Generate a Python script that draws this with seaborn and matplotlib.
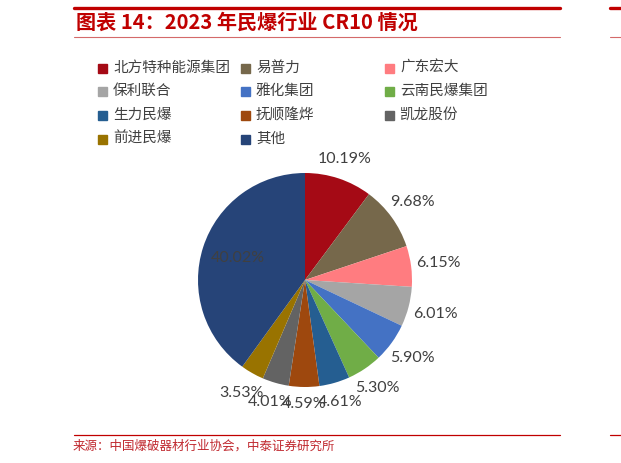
import numpy as np
import matplotlib
matplotlib.use("Agg")
import matplotlib.pyplot as plt
from matplotlib.lines import Line2D
from matplotlib.patches import Rectangle
import seaborn as sns

# data
companies = ["北方特种能源集团", "易普力", "广东宏大", "保利联合", "雅化集团",
             "云南民爆集团", "生力民爆", "抚顺隆烨", "凯龙股份", "前进民爆", "其他"]
shares = [10.19, 9.68, 6.15, 6.01, 5.90, 5.30, 4.61, 4.59, 4.01, 3.53, 40.02]
colors = ["#A50A15", "#76684B", "#FF7C80", "#A5A5A5", "#4472C4",
          "#70AD47", "#255E91", "#9E480E", "#636363", "#997300", "#264478"]

title = "图表 14：2023 年民爆行业 CR10 情况"
source = "来源：中国爆破器材行业协会，中泰证券研究所"

sns.set_style("white")
plt.rcParams['font.family'] = ['Noto Sans CJK SC', 'DejaVu Sans']

W, H = 621, 463
fig = plt.figure(figsize=(W / 100, H / 100), dpi=100)

def fx(px):
    return px / W

def fy(py):
    return 1 - py / H

# pie axes: center (305, 280) px, radius ~107 px
R = 107
span = 1.5
size = 2 * span * R
ax = fig.add_axes([fx(305 - size / 2), (H - 280 - size / 2) / H, size / W, size / H])
palette = sns.color_palette(colors)
wedges, _ = ax.pie(shares, colors=palette, startangle=90, counterclock=False,
                   wedgeprops=dict(linewidth=0))
ax.set_xlim(-span, span)
ax.set_ylim(-span, span)
ax.set_aspect('equal')
ax.axis('off')

for w, v, name in zip(wedges, shares, companies):
    mid = np.deg2rad((w.theta1 + w.theta2) / 2)
    if name == "其他":
        r = 0.66
    else:
        r = 1.16 + 0.1 * abs(np.cos(mid))
    ax.text(r * np.cos(mid), r * np.sin(mid), f"{v:.2f}%", ha='center', va='center',
            fontsize=11.5, color='#404040', family=['Lato', 'DejaVu Sans'])

# title block
red = "#C00000"
fig.add_artist(Line2D([fx(74), fx(560)], [fy(8), fy(8)], color=red, lw=2.4))
fig.add_artist(Line2D([fx(610), fx(621)], [fy(8), fy(8)], color=red, lw=2.4))
fig.add_artist(Line2D([fx(74), fx(560)], [fy(37), fy(37)], color="#D46A6A", lw=0.8))
fig.add_artist(Line2D([fx(610), fx(621)], [fy(37), fy(37)], color="#D46A6A", lw=0.8))
fig.text(fx(76), fy(22), title, fontsize=14.5, fontweight='bold', color=red,
         style='italic', ha='left', va='center')

# legend, 3 columns
col_x = [98, 241, 385]
row_y = [68, 91, 115, 139]
for i, (name, c) in enumerate(zip(companies, palette)):
    row, col = divmod(i, 3)
    x, y = col_x[col], row_y[row]
    fig.add_artist(Rectangle((fx(x), fy(y + 4.5)), 9 / W, 9 / H, color=c,
                             transform=fig.transFigure))
    fig.text(fx(x + 15), fy(y), name, fontsize=10.5, color='#404040',
             ha='left', va='center')

# source block
fig.add_artist(Line2D([fx(74), fx(560)], [fy(435), fy(435)], color=red, lw=0.9))
fig.add_artist(Line2D([fx(610), fx(621)], [fy(435), fy(435)], color=red, lw=0.9))
fig.text(fx(73), fy(446), source, fontsize=9, color="#C0282E", ha='left', va='center')

fig.savefig("out.png", dpi=100)
